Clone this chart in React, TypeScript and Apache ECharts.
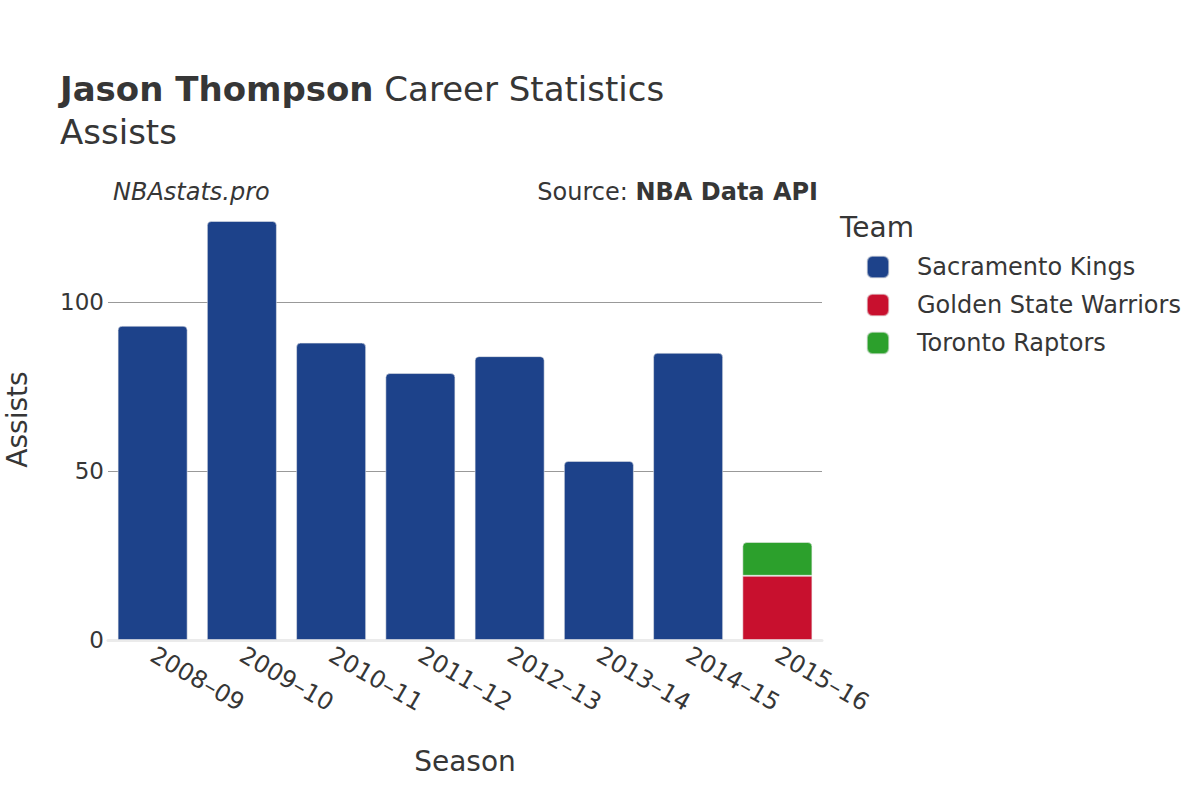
import React, { useEffect, useRef } from "react";
import * as echarts from "echarts";

const SEASONS = ["2008–09", "2009–10", "2010–11", "2011–12", "2012–13", "2013–14", "2014–15", "2015–16"];
const KINGS = [93, 124, 88, 79, 84, 53, 85, null];
const WARRIORS = [null, null, null, null, null, null, null, 19];
const RAPTORS = [null, null, null, null, null, null, null, 10];
const Y_TICKS = [0, 50, 100];
const GRID_LINES = [50, 100];
const Y_MAX = 130.5;

const FONT = "DejaVu Sans";
const TXT = "#363636";
const EDGE = "rgba(235,235,235,0.55)";

export default function App() {
  const ref = useRef<HTMLDivElement>(null);
  useEffect(() => {
    if (!ref.current) return;
    const chart = echarts.init(ref.current, undefined, { renderer: "svg" });
    const gridMark = {
      silent: true,
      symbol: ["none", "none"],
      label: { show: false },
      lineStyle: { color: "#999999", width: 1, type: "solid" },
      data: GRID_LINES.map((v) => ({ yAxis: v })),
      z: 0,
    };
    chart.setOption({
      animation: false,
      backgroundColor: "#ffffff",
      textStyle: { fontFamily: FONT },
      grid: {
        left: 108,
        right: 378,
        top: 199,
        bottom: 160,
        containLabel: false,
        outerBoundsMode: "none",
      },
      xAxis: {
        type: "category",
        data: SEASONS,
        axisLine: { show: true, lineStyle: { color: "#ebebeb", width: 3 } },
        axisTick: { show: false },
        axisLabel: {
          rotate: -30,
          color: TXT,
          fontSize: 24,
          fontFamily: FONT,
          margin: 13,
          interval: 0,
        },
        name: "Season",
        nameLocation: "middle",
        nameGap: 107,
        nameTextStyle: { color: TXT, fontSize: 28, fontFamily: FONT },
      },
      yAxis: {
        type: "value",
        min: 0,
        max: Y_MAX,
        interval: 50,
        splitLine: { show: false },
        axisLine: { show: false },
        axisTick: { show: false },
        axisLabel: {
          color: TXT,
          fontSize: 23,
          fontFamily: FONT,
          margin: 4,
          formatter: (v: number) => (Y_TICKS.includes(v) ? String(v) : ""),
        },
        name: "Assists",
        nameLocation: "middle",
        nameGap: 77,
        nameTextStyle: { color: TXT, fontSize: 28, fontFamily: FONT },
      },
      legend: {
        orient: "vertical",
        left: 866,
        top: 255,
        padding: 0,
        itemWidth: 22,
        itemHeight: 22,
        itemGap: 14,
        icon: "roundRect",
        textStyle: { color: TXT, fontSize: 24, fontFamily: FONT, padding: [0, 0, 0, 23] },
        data: ["Sacramento Kings", "Golden State Warriors", "Toronto Raptors"],
      },
      graphic: [
        {
          type: "text",
          x: 60,
          y: 89,
          style: {
            text: "{b|Jason Thompson} Career Statistics",
            fill: TXT,
            font: `34px ${FONT}`,
            verticalAlign: "middle",
            rich: { b: { fontWeight: "bold", fontSize: 34, fontFamily: FONT, fill: TXT } },
          },
        },
        {
          type: "text",
          x: 60,
          y: 132,
          style: { text: "Assists", fill: TXT, font: `34px ${FONT}`, verticalAlign: "middle" },
        },
        {
          type: "text",
          x: 113,
          y: 192,
          style: { text: "NBAstats.pro", fill: TXT, font: `italic 24px ${FONT}`, verticalAlign: "middle" },
        },
        {
          type: "text",
          x: 818,
          y: 192,
          style: {
            text: "Source: {b|NBA Data API}",
            fill: TXT,
            font: `24px ${FONT}`,
            align: "right",
            verticalAlign: "middle",
            rich: { b: { fontWeight: "bold", fontSize: 24, fontFamily: FONT, fill: TXT } },
          },
        },
        {
          type: "text",
          x: 840,
          y: 227,
          style: { text: "Team", fill: TXT, font: `28px ${FONT}`, verticalAlign: "middle" },
        },
      ],
      series: [
        {
          name: "Sacramento Kings",
          type: "bar",
          stack: "team",
          data: KINGS,
          barCategoryGap: "21.5%",
          itemStyle: { color: "#1D428A", borderRadius: [4, 4, 0, 0], borderColor: EDGE, borderWidth: 1 },
          markLine: gridMark,
          z: 2,
        },
        {
          name: "Golden State Warriors",
          type: "bar",
          stack: "team",
          data: WARRIORS,
          itemStyle: { color: "#C8102E", borderRadius: [0, 0, 0, 0], borderColor: EDGE, borderWidth: 1 },
          z: 2,
        },
        {
          name: "Toronto Raptors",
          type: "bar",
          stack: "team",
          data: RAPTORS,
          itemStyle: { color: "#2CA02C", borderRadius: [4, 4, 0, 0], borderColor: EDGE, borderWidth: 1 },
          z: 2,
        },
      ],
    });
    return () => chart.dispose();
  }, []);
  return <div ref={ref} style={{ width: 1200, height: 800, position: "absolute", left: 0, top: 0 }} />;
}
